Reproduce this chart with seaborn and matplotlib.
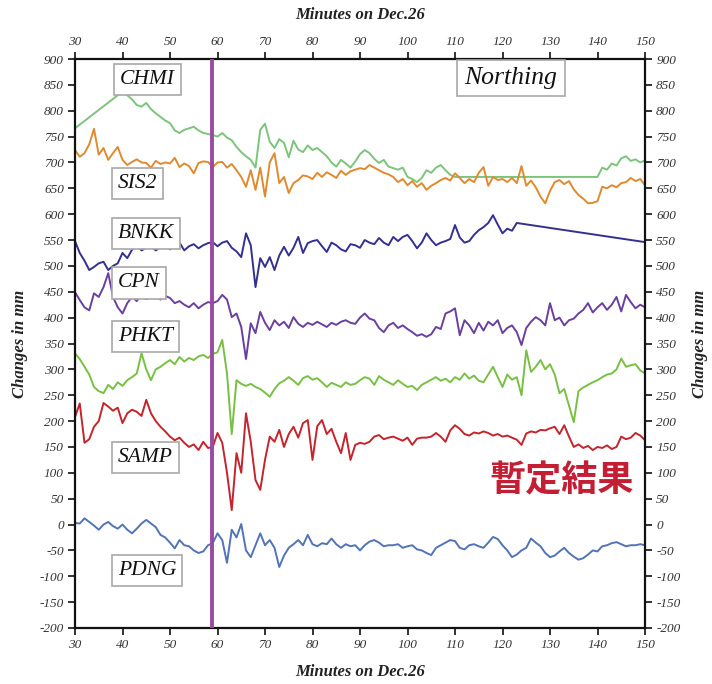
import numpy as np
import pandas as pd
import matplotlib
matplotlib.use("Agg")
import matplotlib.pyplot as plt
import seaborn as sns

# ---------------- data ----------------
minutes = list(range(30, 151))

sis2 = [724, 711, 718, 735, 765, 715, 728, 705, 718, 730,
        705, 695, 701, 706, 700, 699, 690, 703, 697, 700,
        698, 709, 691, 698, 693, 679, 699, 702, 701, 691,
        700, 701, 690, 697, 685, 672, 653, 685, 647, 690,
        634, 700, 718, 660, 672, 641, 660, 666, 675, 673,
        668, 680, 672, 681, 676, 670, 684, 676, 683, 686,
        689, 687, 695, 690, 685, 680, 677, 672, 662, 668,
        656, 664, 653, 660, 647, 655, 660, 666, 670, 665,
        679, 670, 660, 668, 662, 680, 691, 655, 672, 666,
        668, 662, 670, 660, 693, 655, 665, 652, 634, 621,
        645, 662, 666, 658, 664, 648, 637, 630, 621, 622,
        625, 653, 650, 656, 652, 660, 662, 670, 664, 668, 656]

chmi_t = [30] + list(range(40, 111)) + list(range(140, 151))
chmi = [766,
        837, 830, 822, 811, 808, 815, 803, 795, 788, 781,
        776, 762, 757, 763, 766, 769, 762, 757, 755, 753,
        750, 757, 748, 743, 730, 720, 712, 705, 690, 763,
        775, 740, 728, 745, 738, 710, 742, 725, 720, 733,
        724, 728, 720, 712, 700, 692, 705, 698, 690, 702,
        716, 724, 718, 707, 699, 705, 692, 689, 686, 690,
        672, 668, 662, 670, 685, 680, 690, 695, 685, 676, 672,
        672, 690, 686, 698, 694, 708, 712, 703, 706, 700, 704]

bnkk_t = list(range(30, 124)) + [150]
bnkk = [548, 525, 510, 492, 498, 505, 508, 492, 500, 505,
        525, 515, 531, 540, 530, 535, 538, 530, 536, 545,
        532, 540, 545, 530, 538, 542, 534, 540, 544, 546,
        538, 545, 548, 535, 528, 517, 563, 540, 459, 515,
        498, 517, 492, 520, 537, 520, 535, 556, 525, 544,
        548, 550, 538, 527, 545, 540, 532, 528, 542, 540,
        535, 550, 545, 542, 554, 545, 540, 556, 548, 556,
        560, 548, 534, 545, 563, 550, 540, 545, 548, 552,
        579, 555, 545, 548, 560, 569, 575, 583, 598, 580,
        563, 572, 568, 583,
        546]

cpn = [449, 434, 420, 414, 447, 440, 459, 486, 440, 420,
       408, 428, 440, 432, 445, 436, 440, 447, 435, 442,
       438, 428, 432, 425, 420, 428, 418, 425, 430, 428,
       432, 444, 435, 401, 408, 382, 320, 389, 370, 411,
       390, 376, 395, 385, 392, 380, 401, 388, 382, 390,
       386, 392, 387, 382, 390, 386, 392, 395, 390, 388,
       400, 408, 398, 395, 380, 372, 385, 390, 380, 385,
       378, 372, 365, 368, 363, 368, 382, 378, 408, 412,
       418, 366, 395, 385, 370, 390, 375, 392, 385, 395,
       370, 380, 385, 372, 347, 380, 392, 401, 395, 385,
       428, 395, 400, 385, 395, 398, 408, 415, 428, 410,
       420, 428, 415, 425, 440, 412, 444, 430, 418, 425, 420]

phkt = [331, 320, 305, 290, 266, 258, 254, 270, 262, 275,
        268, 279, 285, 292, 331, 300, 279, 300, 305, 312,
        318, 310, 324, 315, 322, 318, 325, 328, 322, 330,
        333, 357, 292, 175, 279, 272, 268, 272, 266, 262,
        255, 247, 262, 273, 278, 285, 278, 270, 283, 287,
        280, 283, 275, 266, 274, 270, 266, 275, 270, 272,
        279, 285, 282, 270, 287, 280, 275, 270, 279, 272,
        266, 268, 260, 270, 275, 280, 285, 278, 282, 275,
        285, 280, 292, 282, 288, 278, 275, 290, 305, 285,
        266, 290, 280, 285, 250, 337, 295, 305, 318, 300,
        310, 290, 254, 262, 230, 198, 258, 265, 270, 275,
        279, 285, 290, 292, 300, 321, 305, 308, 310, 298, 292]

samp = [208, 234, 158, 165, 189, 200, 235, 228, 220, 226,
        196, 215, 222, 218, 210, 241, 215, 200, 189, 180,
        170, 163, 168, 158, 150, 155, 144, 160, 148, 150,
        177, 158, 100, 28, 138, 100, 215, 160, 86, 67,
        125, 170, 160, 183, 150, 175, 189, 168, 196, 202,
        125, 190, 202, 175, 185, 160, 138, 177, 125, 154,
        158, 156, 160, 170, 173, 165, 168, 170, 166, 162,
        168, 154, 166, 168, 168, 170, 177, 170, 160, 182,
        192, 185, 175, 172, 178, 176, 180, 177, 172, 175,
        170, 172, 168, 164, 154, 176, 180, 178, 183, 182,
        186, 189, 175, 192, 170, 150, 155, 148, 152, 144,
        150, 148, 153, 146, 150, 170, 165, 168, 177, 172, 163]

pdng = [3, 2, 12, 5, -2, -10, 0, 5, -3, -8,
        0, -10, -17, -8, 2, 9, 2, -5, -20, -25,
        -35, -46, -30, -40, -42, -50, -55, -52, -40, -36,
        -17, -30, -74, -10, -25, 1, -50, -63, -40, -17,
        -40, -30, -45, -82, -60, -45, -38, -30, -40, -20,
        -38, -42, -36, -38, -27, -38, -45, -38, -42, -40,
        -50, -40, -33, -30, -35, -42, -40, -40, -38, -45,
        -42, -40, -48, -50, -55, -59, -45, -40, -35, -30,
        -32, -45, -48, -40, -38, -42, -45, -35, -24, -28,
        -40, -50, -63, -58, -50, -45, -27, -35, -42, -55,
        -63, -60, -52, -45, -55, -62, -68, -65, -58, -50,
        -52, -42, -40, -36, -34, -38, -42, -40, -40, -38, -40]

station_names = ["CHMI", "SIS2", "BNKK", "CPN", "PHKT", "SAMP", "PDNG"]
x_ticks = list(range(30, 151, 10))
y_ticks = list(range(-200, 901, 50))
event_minute = 58.8

# label anchor positions (minute, mm)
label_pos = {"CHMI": (39.4, 861), "SIS2": (39.0, 660), "BNKK": (39.0, 562),
             "CPN": (39.0, 467), "PHKT": (39.0, 364), "SAMP": (39.0, 130),
             "PDNG": (39.0, -88)}

colors = {"CHMI": "#7cc47c", "SIS2": "#e08a30", "BNKK": "#33308f",
          "CPN": "#6a3f9e", "PHKT": "#78c044", "SAMP": "#c4242c",
          "PDNG": "#5273b6"}

series = {
    "CHMI": (chmi_t, chmi),
    "SIS2": (minutes, sis2),
    "BNKK": (bnkk_t, bnkk),
    "CPN": (minutes, cpn),
    "PHKT": (minutes, phkt),
    "SAMP": (minutes, samp),
    "PDNG": (minutes, pdng),
}

frames = []
for name in station_names:
    t, v = series[name]
    frames.append(pd.DataFrame({"minute": t, "mm": v, "station": name}))
df = pd.concat(frames, ignore_index=True)

# ---------------- plot ----------------
sns.set_style("ticks")
plt.rcParams["font.family"] = ["Liberation Serif", "DejaVu Serif"]
plt.rcParams["axes.unicode_minus"] = False

fig = plt.figure(figsize=(7.12, 6.84), dpi=100)
ax = fig.add_axes([75 / 712, 1 - 628 / 684, 570 / 712, 569 / 684])

sns.lineplot(data=df, x="minute", y="mm", hue="station",
             palette=colors, hue_order=station_names, estimator=None,
             sort=False, linewidth=1.4, legend=False, ax=ax)

ax.axvline(event_minute, color="#9a4aa2", linewidth=2.8, zorder=5)

ax.set_xlim(30, 150)
ax.set_ylim(-200, 900)
ax.set_xticks(x_ticks)
ax.set_yticks(y_ticks)
ax.set_xlabel("")
ax.set_ylabel("")

for s in ax.spines.values():
    s.set_visible(True)
    s.set_linewidth(1.6)
    s.set_color("#111111")

ax.tick_params(axis="both", which="major", direction="out", length=5,
               width=1.2, colors="#111111", labelsize=9.5,
               top=True, right=True, labeltop=True, labelright=True,
               labelcolor="#333333", pad=3)
for lab in ax.get_xticklabels() + ax.get_yticklabels():
    lab.set_fontstyle("italic")

# station labels in boxes
for name in station_names:
    tx, ty = label_pos[name]
    ax.text(tx, ty, name, fontsize=15.5, fontstyle="italic", ha="left",
            va="center", color="#111111", zorder=6,
            bbox=dict(boxstyle="square,pad=0.28", facecolor="white",
                      edgecolor="#a8a8a8", linewidth=1.2))

ax.text(121.8, 863, "Northing", fontsize=18.5, fontstyle="italic",
        ha="center", va="center", color="#111111", zorder=6,
        bbox=dict(boxstyle="square,pad=0.28", facecolor="white",
                  edgecolor="#a8a8a8", linewidth=1.2))

ax.text(132.5, 84, "暫定結果", fontsize=26, fontweight="bold",
        family=["Noto Sans CJK JP", "DejaVu Sans"], color="#c41e35",
        ha="center", va="center", zorder=6)

# axis titles
fig.text(360 / 712, 1 - 15 / 684, "Minutes on Dec.26", ha="center",
         va="center", fontsize=12, fontstyle="italic", fontweight="bold",
         color="#222222")
fig.text(360 / 712, 1 - 672 / 684, "Minutes on Dec.26", ha="center",
         va="center", fontsize=12, fontstyle="italic", fontweight="bold",
         color="#222222")
fig.text(20 / 712, 1 - 344 / 684, "Changes in mm", ha="center",
         va="center", rotation=90, fontsize=12, fontstyle="italic",
         fontweight="bold", color="#222222")
fig.text(700 / 712, 1 - 344 / 684, "Changes in mm", ha="center",
         va="center", rotation=90, fontsize=12, fontstyle="italic",
         fontweight="bold", color="#222222")

fig.savefig("out.png", dpi=100, facecolor="white")
